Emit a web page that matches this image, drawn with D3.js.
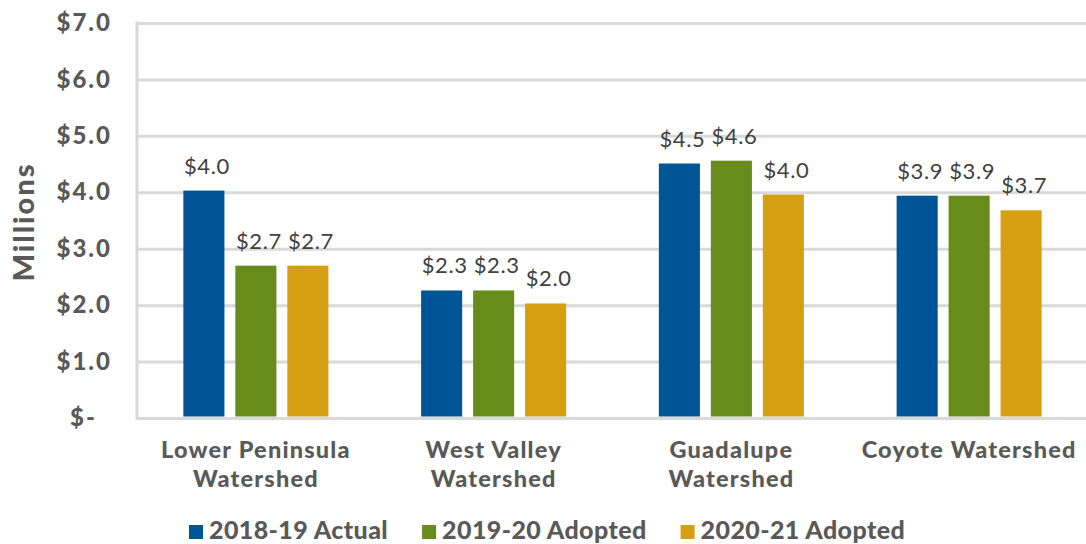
<!DOCTYPE html>
<html>
<head>
<meta charset="utf-8">
<script src="https://cdn.jsdelivr.net/npm/d3@7"></script>
<style>
  html, body { margin: 0; padding: 0; background: #fff; }
  svg { display: block; }
  text { font-family: Lato, "Open Sans", sans-serif; }
</style>
</head>
<body>
<div id="chart"></div>
<script>
// data
const categories = ["Lower Peninsula Watershed", "West Valley Watershed", "Guadalupe Watershed", "Coyote Watershed"];
const categoryLines = [["Lower Peninsula", "Watershed"], ["West Valley", "Watershed"], ["Guadalupe", "Watershed"], ["Coyote Watershed"]];
const seriesNames = ["2018-19 Actual", "2019-20 Adopted", "2020-21 Adopted"];
const actual1819 = [4.03, 2.26, 4.51, 3.94];
const adopted1920 = [2.70, 2.26, 4.56, 3.94];
const adopted2021 = [2.70, 2.03, 3.96, 3.68];
const yTicks = [0, 1, 2, 3, 4, 5, 6, 7];
const yTickLabels = ["$-", "$1.0", "$2.0", "$3.0", "$4.0", "$5.0", "$6.0", "$7.0"];
const colors = ["#005596", "#678C1C", "#D69F12"];

const series = [actual1819, adopted1920, adopted2021];

const W = 1086, H = 544;
const margin = {top: 23, left: 137, right: -2, bottom: 126};
const plotW = W - margin.left - margin.right;
const plotH = H - margin.top - margin.bottom;

const svg = d3.select("#chart").append("svg")
  .attr("width", W)
  .attr("height", H);

const g = svg.append("g")
  .attr("transform", "translate(" + margin.left + "," + margin.top + ")");

/** scales */
const x0 = d3.scaleBand()
  .domain(categories)
  .range([0, plotW])
  .paddingInner(0.39)
  .paddingOuter(0.195);

const x1 = d3.scaleBand()
  .domain(seriesNames)
  .range([0, x0.bandwidth()])
  .paddingInner(0.21);

const y = d3.scaleLinear()
  .domain([0, 7])
  .range([plotH, 0]);

// y axis with gridlines
const yAxis = d3.axisLeft(y)
  .tickValues(yTicks)
  .tickSize(-plotW)
  .tickPadding(27)
  .tickFormat((d, i) => yTickLabels[i]);

const yG = g.append("g").attr("class", "y-axis").call(yAxis);
yG.select(".domain").remove();
yG.selectAll(".tick line")
  .attr("stroke", "#d9d9d9")
  .attr("stroke-width", 3);
yG.selectAll(".tick text")
  .attr("fill", "#595959")
  .style("font-size", "24px")
  .style("font-weight", "900")
  .style("letter-spacing", "2px")
  .attr("dx", (d) => d === 0 ? -13 : 2);

// left border
g.append("line")
  .attr("x1", 0).attr("x2", 0)
  .attr("y1", y(7) - 1.5).attr("y2", y(0) + 1.5)
  .attr("stroke", "#d9d9d9")
  .attr("stroke-width", 3);

/** bars */
const groups = g.selectAll(".group")
  .data(categories)
  .enter()
  .append("g")
  .attr("class", "group")
  .attr("transform", (d) => "translate(" + x0(d) + ",0)");

groups.selectAll("rect")
  .data((d, ci) => series.map((s, si) => ({name: seriesNames[si], value: s[ci], color: colors[si]})))
  .enter()
  .append("rect")
  .attr("x", (d) => x1(d.name))
  .attr("y", (d) => y(d.value))
  .attr("width", x1.bandwidth())
  .attr("height", (d) => y(0) - y(d.value) - 1.5)
  .attr("fill", (d) => d.color);

// value labels
groups.selectAll(".val")
  .data((d, ci) => series.map((s, si) => ({name: seriesNames[si], value: s[ci]})))
  .enter()
  .append("text")
  .attr("class", "val")
  .attr("x", (d) => x1(d.name) + x1.bandwidth() / 2 + 3)
  .attr("y", (d) => y(d.value) - 17)
  .attr("text-anchor", "middle")
  .attr("fill", "#404040")
  .style("font-size", "22px")
  .style("font-weight", "400")
  .style("letter-spacing", "0.6px")
  .text((d) => d3.format("$.1f")(d.value));

/** category labels */
g.selectAll(".cat")
  .data(categories)
  .enter()
  .append("text")
  .attr("class", "cat")
  .attr("text-anchor", "middle")
  .attr("fill", "#595959")
  .style("font-size", "23.5px")
  .style("font-weight", "900")
  .style("letter-spacing", "1.2px")
  .each(function(d, i) {
    const t = d3.select(this);
    categoryLines[i].forEach((line, li) => {
      t.append("tspan")
        .attr("x", x0(d) + x0.bandwidth() / 2)
        .attr("y", plotH + 40 + li * 29)
        .text(line);
    });
  });

// y axis title
svg.append("text")
  .attr("transform", "translate(34,222) rotate(-90)")
  .attr("text-anchor", "middle")
  .attr("fill", "#595959")
  .style("font-size", "29px")
  .style("font-weight", "900")
  .style("letter-spacing", "2px")
  .text("Millions");

/** legend */
const legend = svg.append("g").attr("class", "legend");
let lx = 189;
seriesNames.forEach((name, i) => {
  legend.append("rect")
    .attr("x", lx)
    .attr("y", 525)
    .attr("width", 14)
    .attr("height", 14)
    .attr("fill", colors[i]);
  const t = legend.append("text")
    .attr("x", lx + 20)
    .attr("y", 539)
    .attr("fill", "#595959")
    .style("font-size", "25px")
    .style("font-weight", "900")
    .style("letter-spacing", "0.4px")
    .text(name);
  lx += 20 + t.node().getComputedTextLength() + 34;
});
</script>
</body>
</html>
